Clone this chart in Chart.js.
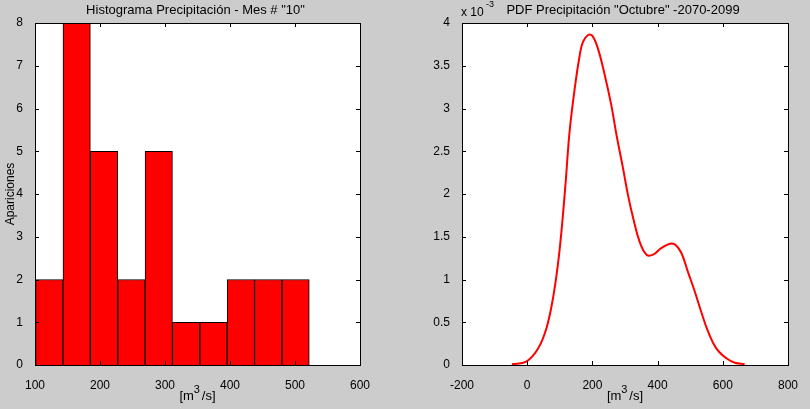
<!DOCTYPE html>
<html>
<head>
<meta charset="utf-8">
<script src="https://cdn.jsdelivr.net/npm/chart.js@4"></script>
<style>
  html, body { margin: 0; padding: 0; background: #cccccc; }
  .box { position: absolute; top: 0; width: 405px; height: 409px; }
</style>
</head>
<body>
<div class="box" style="left:0"><canvas id="hist"></canvas></div>
<div class="box" style="left:405px"><canvas id="pdf"></canvas></div>
<script>
// histogram: bin centres [m3/s] and counts
const binCenters = [122, 164.1, 206.2, 248.3, 290.4, 332.5, 374.6, 416.7, 458.8, 500.9];
const binCounts = [2, 8, 5, 2, 5, 1, 1, 2, 2, 2];

// pdf curve, values in units of 1e-3
const pdfX = [-47, -3, 33, 59, 79, 94, 105, 118, 130, 146, 161, 171, 187, 200, 217, 238, 258, 274, 294, 309, 325, 345, 366, 386, 412, 442, 456, 473, 493, 514, 534, 555, 580, 611, 637, 667];
const pdfY = [0.01, 0.04, 0.19, 0.43, 0.78, 1.17, 1.56, 2.14, 2.73, 3.24, 3.62, 3.78, 3.86, 3.85, 3.70, 3.39, 3.04, 2.69, 2.30, 1.99, 1.72, 1.44, 1.29, 1.29, 1.37, 1.42, 1.40, 1.31, 1.09, 0.86, 0.62, 0.39, 0.195, 0.078, 0.027, 0.01];

const FAMILY = '"Liberation Sans", Arial, sans-serif';
Chart.defaults.font = { family: FAMILY, size: 12 };
Chart.defaults.color = '#000';

// white plot area, black box, inward ticks on all sides, title text
const frame = {
  id: 'frame',
  beforeDraw(chart) {
    const a = chart.chartArea, ctx = chart.ctx;
    ctx.save();
    ctx.fillStyle = '#fff';
    ctx.fillRect(a.left, a.top, a.right - a.left, a.bottom - a.top);
    ctx.restore();
  },
  afterDraw(chart, args, opts) {
    const a = chart.chartArea, ctx = chart.ctx;
    ctx.save();
    ctx.strokeStyle = '#000';
    ctx.lineWidth = 1;
    ctx.strokeRect(Math.round(a.left) + 0.5, Math.round(a.top) + 0.5,
      Math.round(a.right - a.left), Math.round(a.bottom - a.top));
    const len = 4;
    ctx.beginPath();
    chart.scales.x.ticks.forEach(t => {
      const px = Math.round(chart.scales.x.getPixelForValue(t.value)) + 0.5;
      ctx.moveTo(px, a.bottom); ctx.lineTo(px, a.bottom - len);
      ctx.moveTo(px, a.top); ctx.lineTo(px, a.top + len);
    });
    chart.scales.y.ticks.forEach(t => {
      const py = Math.round(chart.scales.y.getPixelForValue(t.value)) + 0.5;
      ctx.moveTo(a.left, py); ctx.lineTo(a.left + len, py);
      ctx.moveTo(a.right, py); ctx.lineTo(a.right - len, py);
    });
    ctx.stroke();

    ctx.fillStyle = '#000';
    ctx.textBaseline = 'middle';
    ctx.textAlign = 'center';
    ctx.font = '13px ' + FAMILY;
    ctx.fillText(opts.title, (a.left + a.right) / 2 + (opts.shift || 0), 10);

    // x label with a raised 3
    const cx = (a.left + a.right) / 2, y = 396;
    ctx.textAlign = 'left';
    const w1 = ctx.measureText('[m').width, w3 = 8, w2 = ctx.measureText('/s]').width;
    const x0 = cx - (w1 + w3 + w2) / 2;
    ctx.fillText('[m', x0, y);
    ctx.font = '11px ' + FAMILY;
    ctx.fillText('3', x0 + w1, y - 6);
    ctx.font = '13px ' + FAMILY;
    ctx.fillText('/s]', x0 + w1 + w3, y);

    if (opts.exponent) {
      ctx.font = '12px ' + FAMILY;
      ctx.fillText('x 10', a.left - 1, 13);
      ctx.font = '9px ' + FAMILY;
      ctx.fillText('-3', a.left + 24, 5);
    }
    ctx.restore();
  }
};

new Chart(document.getElementById('hist'), {
  type: 'bar',
  data: {
    datasets: [{
      data: binCenters.map((c, i) => ({ x: c, y: binCounts[i] })),
      backgroundColor: '#ff0000',
      borderColor: '#000',
      borderWidth: 1,
      barPercentage: 1,
      categoryPercentage: 1
    }]
  },
  options: {
    responsive: true,
    maintainAspectRatio: false,
    animation: false,
    layout: { padding: { left: 0, right: 45, top: 23, bottom: 0 } },
    plugins: {
      legend: { display: false },
      tooltip: { enabled: false },
      frame: { title: 'Histograma Precipitación - Mes # "10"', shift: -2 }
    },
    scales: {
      x: {
        type: 'linear', min: 100, max: 600, offset: false,
        grid: { display: false, offset: false },
        border: { display: false },
        ticks: { stepSize: 100, padding: 5, maxRotation: 0 },
        afterFit(s) { s.height = 44; }
      },
      y: {
        min: 0, max: 8,
        grid: { display: false },
        border: { display: false },
        ticks: { stepSize: 1, padding: 4 },
        title: { display: true, text: 'Apariciones', padding: { top: 3, bottom: 3 } },
        afterFit(s) { s.width = 35; }
      }
    }
  },
  plugins: [frame]
});

new Chart(document.getElementById('pdf'), {
  type: 'line',
  data: {
    datasets: [{
      data: pdfX.map((x, i) => ({ x: x, y: pdfY[i] })),
      borderColor: '#ff0000',
      borderWidth: 2,
      pointRadius: 0,
      tension: 0.4,
      fill: false
    }]
  },
  options: {
    responsive: true,
    maintainAspectRatio: false,
    animation: false,
    layout: { padding: { left: 0, right: 22, top: 23, bottom: 0 } },
    plugins: {
      legend: { display: false },
      tooltip: { enabled: false },
      frame: { title: 'PDF Precipitación "Octubre" -2070-2099', exponent: true, shift: -2 }
    },
    scales: {
      x: {
        type: 'linear', min: -200, max: 800,
        grid: { display: false },
        border: { display: false },
        ticks: { stepSize: 200, padding: 5, maxRotation: 0 },
        afterFit(s) { s.height = 44; }
      },
      y: {
        min: 0, max: 4,
        grid: { display: false },
        border: { display: false },
        ticks: { stepSize: 0.5, padding: 4, callback: v => String(v) },
        afterFit(s) { s.width = 57; }
      }
    }
  },
  plugins: [frame]
});
</script>
</body>
</html>
